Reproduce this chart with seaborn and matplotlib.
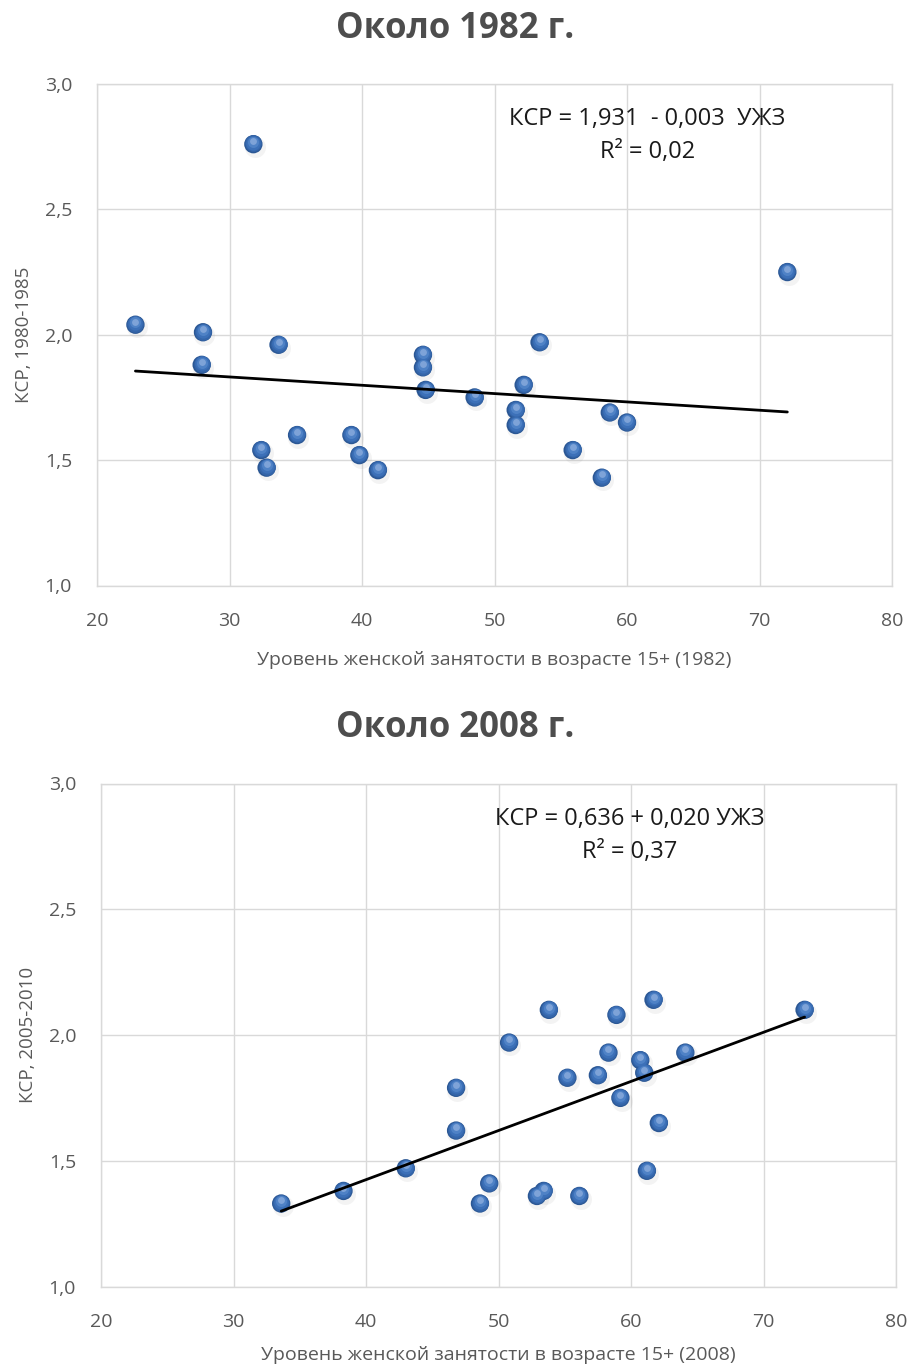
import matplotlib
matplotlib.use("Agg")
import matplotlib.pyplot as plt
import matplotlib.transforms as mtransforms
import numpy as np
import seaborn as sns

# Female employment rate (15+) vs total fertility rate, around 1982
emp_1982 = [22.9, 31.8, 28.0, 27.9, 33.7, 44.6, 44.6, 44.8, 48.5, 32.4, 32.8, 35.1,
            39.2, 39.8, 41.2, 72.1, 53.4, 52.2, 51.6, 51.6, 58.7, 60.0, 55.9, 58.1]
tfr_1982 = [2.04, 2.76, 2.01, 1.88, 1.96, 1.92, 1.87, 1.78, 1.75, 1.54, 1.47, 1.60,
            1.60, 1.52, 1.46, 2.25, 1.97, 1.80, 1.70, 1.64, 1.69, 1.65, 1.54, 1.43]

# Same, around 2008
emp_2008 = [33.6, 38.3, 43.0, 46.8, 46.8, 49.3, 48.6, 50.8, 53.8, 58.9, 61.7, 73.1,
            58.3, 60.7, 61.0, 64.1, 55.2, 57.5, 59.2, 62.1, 61.2, 53.4, 52.9, 56.1]
tfr_2008 = [1.33, 1.38, 1.47, 1.62, 1.79, 1.41, 1.33, 1.97, 2.10, 2.08, 2.14, 2.10,
            1.93, 1.90, 1.85, 1.93, 1.83, 1.84, 1.75, 1.65, 1.46, 1.38, 1.36, 1.36]

titles = ["Около 1982 г.", "Около 2008 г."]
xlabels = ["Уровень женской занятости в возрасте 15+ (1982)",
           "Уровень женской занятости в возрасте 15+ (2008)"]
ylabels = ["КСР, 1980-1985", "КСР, 2005-2010"]
equations = ["КСР = 1,931  - 0,003  УЖЗ\nR² = 0,02",
             "КСР = 0,636 + 0,020 УЖЗ\nR² = 0,37"]
x_ticks = [20, 30, 40, 50, 60, 70, 80]
y_ticks = [1.0, 1.5, 2.0, 2.5, 3.0]
y_ticklabels = ["1,0", "1,5", "2,0", "2,5", "3,0"]

sns.set_theme(style="white")
plt.rcParams["font.family"] = ["Open Sans", "DejaVu Sans"]

W, H = 910, 1367
fig = plt.figure(figsize=(W / 100, H / 100), dpi=100)

GRID = "#D9D9D9"
TICK = "#595959"

panels = [
    dict(x=emp_1982, y=tfr_1982, rect=[97 / W, 1 - 585.5 / H, 795 / W, 501.5 / H],
         title_y=1 - 38.5 / H, eq_xy=(0.692, 0.897), xpad=15),
    dict(x=emp_2008, y=tfr_2008, rect=[101 / W, 1 - 1286.5 / H, 795 / W, 503 / H],
         title_y=1 - 737 / H, eq_xy=(0.665, 0.897), xpad=11),
]


def sphere_markers(ax, x, y, size):
    """Glossy ball markers built from stacked, slightly offset discs."""
    shadow = mtransforms.offset_copy(ax.transData, fig=fig, x=1.0, y=-2.0, units="points")
    ax.scatter(x, y, s=size * 1.3, color="#8c8c8c", alpha=0.10, linewidths=0,
               transform=shadow, zorder=3)
    sns.scatterplot(x=x, y=y, ax=ax, s=size, color="#2b5794", edgecolor="none",
                    linewidth=0, zorder=4, legend=False)
    layers = [(0.82, "#3465a9", 0.5), (0.60, "#3c70b8", 1.0),
              (0.36, "#4f82c6", 1.6), (0.14, "#7ea3d8", 2.3)]
    for frac, col, dy in layers:
        tr = mtransforms.offset_copy(ax.transData, fig=fig, x=0, y=dy, units="points")
        ax.scatter(x, y, s=size * frac, color=col, linewidths=0, transform=tr, zorder=5)


for i, p in enumerate(panels):
    ax = fig.add_axes(p["rect"])
    sns.regplot(x=np.array(p["x"]), y=np.array(p["y"]), ax=ax, ci=None, scatter=False,
                truncate=True, line_kws=dict(color="black", lw=2.0, zorder=6))
    sphere_markers(ax, p["x"], p["y"], 175)

    ax.set_xlim(20, 80)
    ax.set_ylim(1.0, 3.0)
    ax.set_xticks(x_ticks)
    ax.set_xticklabels([str(t) for t in x_ticks])
    ax.set_yticks(y_ticks)
    ax.set_yticklabels(y_ticklabels)
    ax.grid(True, color=GRID, lw=1.0)
    ax.set_axisbelow(True)
    for s in ax.spines.values():
        s.set_color(GRID)
        s.set_linewidth(1.0)
    ax.tick_params(axis="both", length=0, labelsize=14, colors=TICK)
    ax.tick_params(axis="x", pad=19)
    ax.tick_params(axis="y", pad=18)
    ax.set_xlabel(xlabels[i], fontsize=14, color=TICK, labelpad=p["xpad"])
    ax.set_ylabel(ylabels[i], fontsize=13.5, color=TICK, labelpad=8)

    ax.text(p["eq_xy"][0], p["eq_xy"][1], equations[i], transform=ax.transAxes,
            ha="center", va="center", fontsize=17, color="#1a1a1a", linespacing=1.5)

    fig.text(0.5, p["title_y"], titles[i], ha="center", va="baseline",
             fontsize=25, fontweight="bold", color="#4d4d4d")

fig.savefig("out.png", dpi=100, facecolor="white")
